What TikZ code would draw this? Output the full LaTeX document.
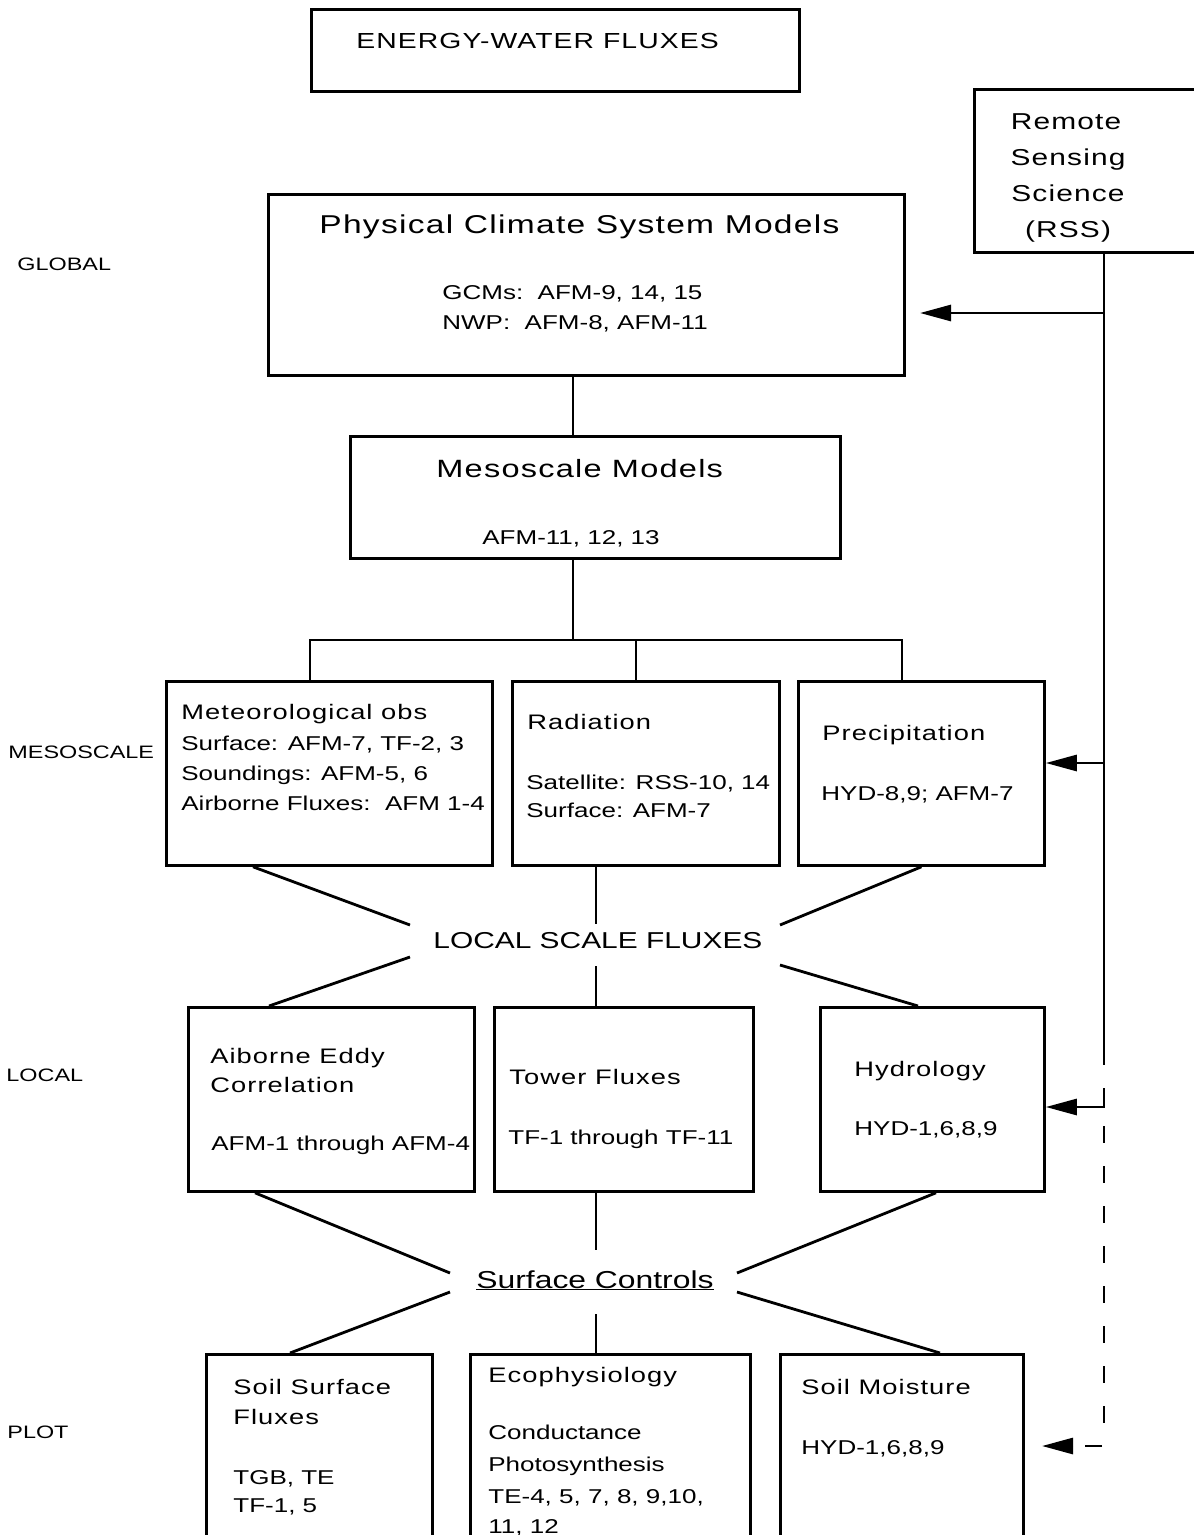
\documentclass[tikz,border=0pt]{standalone}
\usepackage{fontspec}
\setmainfont{Liberation Sans}
\newfontfamily\bodyf[FakeStretch=1.3]{Liberation Sans}
\newfontfamily\headf[FakeStretch=1.3,LetterSpace=5]{Liberation Sans}
\usetikzlibrary{arrows.meta,calc}
\begin{document}
\begin{tikzpicture}[x=1pt,y=-1pt,line width=2.8pt,
  box/.style={draw,line width=2.8pt,inner sep=0pt,anchor=north west},
  lbl/.style={inner sep=0pt,anchor=base west,font=\bodyf\fontsize{18pt}{22pt}\selectfont},
  hd/.style={inner sep=0pt,anchor=base west,font=\headf\fontsize{21pt}{25pt}\selectfont},
  bd/.style={inner sep=0pt,anchor=base west,font=\bodyf\fontsize{20pt}{24pt}\selectfont},
  ttl/.style={inner sep=0pt,anchor=base west,font=\headf\fontsize{25.8pt}{30pt}\selectfont},
  big/.style={inner sep=0pt,anchor=base west,font=\bodyf\fontsize{23pt}{28pt}\selectfont},
  arr/.style={-{Triangle[length=31pt,width=16pt]}}]
\useasboundingbox (0,0) rectangle (1194,1535);
\clip (0,0) rectangle (1194,1535);

% boxes
\node[box,minimum width=488pt,minimum height=82pt] (ew) at (310,8) {};
\node[box,minimum width=226pt,minimum height=163pt] (rss) at (973,88) {};
\node[box,minimum width=636pt,minimum height=181pt] (phys) at (267,193) {};
\node[box,minimum width=490pt,minimum height=122pt] (meso) at (349,435) {};
\node[box,minimum width=326pt,minimum height=184pt] (met) at (165,680) {};
\node[box,minimum width=267pt,minimum height=184pt] (rad) at (511,680) {};
\node[box,minimum width=246pt,minimum height=184pt] (prec) at (797,680) {};
\node[box,minimum width=286pt,minimum height=184pt] (aec) at (187,1006) {};
\node[box,minimum width=259pt,minimum height=184pt] (tow) at (493,1006) {};
\node[box,minimum width=224pt,minimum height=184pt] (hyd) at (819,1006) {};
\node[box,minimum width=226pt,minimum height=200pt] (soil) at (205,1353) {};
\node[box,minimum width=280pt,minimum height=200pt] (eco) at (469,1353) {};
\node[box,minimum width=243pt,minimum height=200pt] (sm) at (779,1353) {};

% texts
\node[hd,font=\headf\fontsize{21.8pt}{26pt}\selectfont] (tew) at (355,48) {ENERGY-WATER FLUXES};
\node[hd,font=\headf\fontsize{23pt}{28pt}\selectfont,anchor=base] (trss1) at (1066,129) {Remote};
\node[hd,font=\headf\fontsize{23pt}{28pt}\selectfont,anchor=base] (trss2) at (1068,165) {Sensing};
\node[hd,font=\headf\fontsize{23pt}{28pt}\selectfont,anchor=base] (trss3) at (1068,201) {Science};
\node[hd,font=\headf\fontsize{23pt}{28pt}\selectfont,anchor=base] (trss4) at (1068,237) {(RSS)};

\node[ttl] (tph) at (318,233) {Physical Climate System Models};
\node[bd] (tph1) at (441,299) {GCMs:\ \ AFM-9, 14, 15};
\node[bd] (tph2) at (441,329) {NWP:\ \ AFM-8, AFM-11};

\node[ttl,font=\headf\fontsize{25pt}{30pt}\selectfont] (tme) at (435,477) {Mesoscale Models};
\node[bd] (tme1) at (481,544) {AFM-11, 12, 13};

\node[hd] (tmet) at (180,719.5) {Meteorological obs};
\node[bd] (tmet1) at (180,750) {Surface: AFM-7, TF-2, 3};
\node[bd] (tmet2) at (180,780) {Soundings: AFM-5, 6};
\node[bd] (tmet3) at (180,810) {Airborne Fluxes:\ \ AFM 1-4};

\node[hd] (trad) at (526,729.5) {Radiation};
\node[bd] (trad1) at (525,789) {Satellite: RSS-10, 14};
\node[bd] (trad2) at (525,817) {Surface: AFM-7};

\node[hd] (tpr) at (821,740.5) {Precipitation};
\node[bd] (tpr1) at (820,800) {HYD-8,9; AFM-7};

\node[big] (lsf) at (432,948) {LOCAL SCALE FLUXES};

\node[hd] (taec1) at (209,1063.5) {Aiborne Eddy};
\node[hd] (taec2) at (209,1092.5) {Correlation};
\node[bd] (taec3) at (210,1150) {AFM-1 through AFM-4};

\node[hd] (ttow) at (508,1084.5) {Tower Fluxes};
\node[bd] (ttow1) at (507,1144) {TF-1 through TF-11};

\node[hd] (thyd) at (853,1076.5) {Hydrology};
\node[bd] (thyd1) at (853,1135) {HYD-1,6,8,9};

\node[big,font=\bodyf\fontsize{24.5pt}{28pt}\selectfont] (sc) at (475,1288) {\underline{Surface Controls}};

\node[hd] (tso1) at (232,1394.5) {Soil Surface};
\node[hd] (tso2) at (232,1424.5) {Fluxes};
\node[bd] (tso3) at (232,1484) {TGB, TE};
\node[bd] (tso4) at (232,1512) {TF-1, 5};

\node[hd] (teco) at (487,1382) {Ecophysiology};
\node[bd] (teco1) at (487,1439) {Conductance};
\node[bd] (teco2) at (487,1471) {Photosynthesis};
\node[bd] (teco3) at (487,1503) {TE-4, 5, 7, 8, 9,10,};
\node[bd] (teco4) at (487,1533) {11, 12};

\node[hd] (tsm) at (800,1394.5) {Soil Moisture};
\node[bd] (tsm1) at (800,1454) {HYD-1,6,8,9};

\node[lbl] (lg) at (16,270.5) {GLOBAL};
\node[lbl] (lm) at (7,758.5) {MESOSCALE};
\node[lbl] (ll) at (5,1081.5) {LOCAL};
\node[lbl] (lp) at (6,1438.5) {PLOT};

% tree connectors
\coordinate (j0) at (573,640);
\coordinate (bl) at (310,640);
\coordinate (bm) at (636,640);
\coordinate (br) at (902,640);
\draw (j0 |- phys.south) -- (j0 |- meso.north);
\draw (j0 |- meso.south) -- (j0);
\draw (bl |- met.north) -- (bl) -- (br) -- (br |- prec.north);
\draw (bm) -- (bm |- rad.north);

% local scale fluxes
\coordinate (l1) at (410,925);
\coordinate (l2) at (410,957);
\coordinate (l3) at (780,925);
\coordinate (l4) at (780,965);
\coordinate (lv1) at (596,924);
\coordinate (lv2) at (596,966);
\draw ($(met.south west)+(88,0)$) -- (l1);
\draw (l2) -- ($(aec.north west)+(82,0)$);
\draw (lv1 |- rad.south) -- (lv1);
\draw (lv2) -- (lv2 |- tow.north);
\draw (prec.south) -- (l3);
\draw (l4) -- ($(hyd.north west)+(99,0)$);

% surface controls
\coordinate (s1) at (450,1273);
\coordinate (s2) at (450,1292);
\coordinate (s3) at (737,1273);
\coordinate (s4) at (737,1292);
\coordinate (sv1) at (596,1250);
\coordinate (sv2) at (596,1314);
\draw ($(aec.south west)+(68,0)$) -- (s1);
\draw (s2) -- ($(soil.north west)+(85,0)$);
\draw (sv1 |- tow.south) -- (sv1);
\draw (sv2) -- (sv2 |- eco.north);
\draw ($(hyd.south west)+(117,0)$) -- (s3);
\draw (s4) -- ($(sm.north west)+(161,0)$);

% remote sensing feed
\coordinate (v0) at (1104,0);
\coordinate (v1) at (1104,1065);
\coordinate (v2) at (1104,1088);
\coordinate (r1) at (1104,313);
\coordinate (r2) at (1104,763);
\coordinate (r3) at (1104,1107);
\coordinate (d0) at (1104,1126);
\coordinate (d1) at (1104,1424);
\coordinate (r4) at (1102,1446);
\coordinate (t1) at (920,313);
\coordinate (t4) at (1042,1446);
\draw (v0 |- rss.south) -- (v1);
\draw[arr] (r1) -- (t1);
\draw[arr] (r2) -- (r2 -| prec.east);
\draw[arr] (v2) -- (r3) -- (r3 -| hyd.east);
\draw[dash pattern=on 17pt off 23pt] (d0) -- (d1);
\draw[dash pattern=on 17pt off 12pt,arr] (r4) -- (t4);
\end{tikzpicture}
\end{document}
